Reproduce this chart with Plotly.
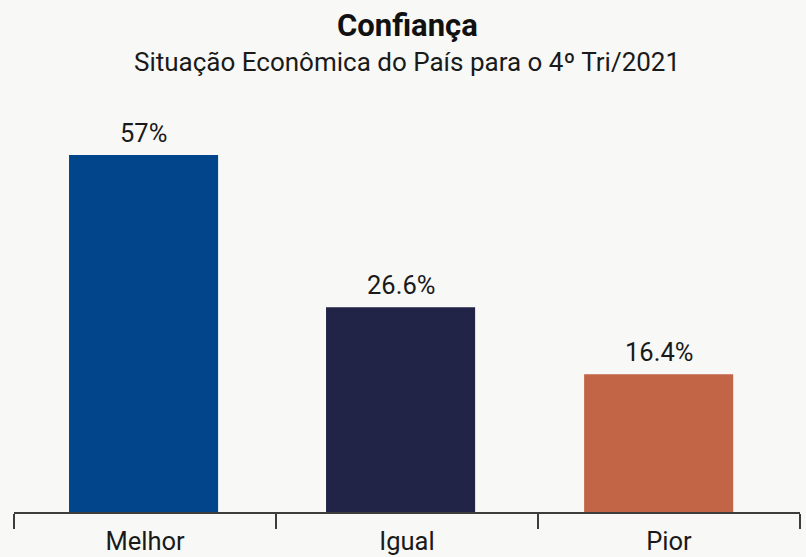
import plotly.graph_objects as go

categories = ["Melhor", "Igual", "Pior"]
values = [57, 26.6, 16.4]
label_texts = ["57%", "26.6%", "16.4%"]
# bar lengths as drawn in the reference (in % units, tallest bar = 57)
bar_heights = [57, 32.7, 22.0]
colors = ["#02458a", "#212347", "#c26446"]

title = "Confiança"
subtitle = "Situação Econômica do País para o 4º Tri/2021"

bg = "#f8f8f6"
font_family = "Roboto, 'Noto Sans', sans-serif"

# layout styling: bar width and left offsets (fraction of a category slot)
bar_width = 0.569
bar_offsets = [-0.290, -0.309, -0.324]
slot_px = 262  # pixel width of one category slot

fig = go.Figure()
fig.add_trace(go.Bar(
    x=categories, y=bar_heights,
    width=bar_width, offset=bar_offsets,
    marker=dict(color=colors, line=dict(width=0)),
    hoverinfo="skip",
))

annotations = []
for c, h, t, off in zip(categories, bar_heights, label_texts, bar_offsets):
    annotations.append(dict(
        x=c, y=h, xref="x", yref="y", text=t, showarrow=False,
        yanchor="bottom", yshift=5,
        xshift=(off + bar_width / 2) * slot_px,
        font=dict(family=font_family, size=25.5, color="#1a1a1a"),
    ))

annotations.append(dict(
    x=0.5, y=1.182, xref="paper", yref="paper", text="<b>%s</b>" % title,
    showarrow=False, yanchor="middle", xanchor="center",
    font=dict(family=font_family, size=31, color="#111111"),
))
annotations.append(dict(
    x=0.5, y=1.092, xref="paper", yref="paper", text=subtitle,
    showarrow=False, yanchor="middle", xanchor="center",
    font=dict(family=font_family, size=26, color="#1a1a1a"),
))

fig.update_layout(
    width=806, height=557,
    margin=dict(l=14, r=6, t=100, b=45, autoexpand=False),
    paper_bgcolor=bg, plot_bgcolor=bg,
    showlegend=False,
    annotations=annotations,
    font=dict(family=font_family, size=25.5, color="#1a1a1a"),
)
fig.update_xaxes(
    type="category",
    tickson="boundaries",
    ticks="outside", ticklen=15, tickwidth=2, tickcolor="#3d3d3d",
    ticklabelstandoff=5,
    showline=True, linewidth=2, linecolor="#3d3d3d",
    showgrid=False, zeroline=False,
    tickfont=dict(family=font_family, size=25.5, color="#1a1a1a"),
    fixedrange=True,
)
fig.update_yaxes(
    range=[0, 65.8], visible=False, showgrid=False, zeroline=False, fixedrange=True,
)

fig.write_html(
    "out.html",
    config={"displayModeBar": False},
    post_script="document.body.style.margin='0';document.body.style.overflow='hidden';",
)
